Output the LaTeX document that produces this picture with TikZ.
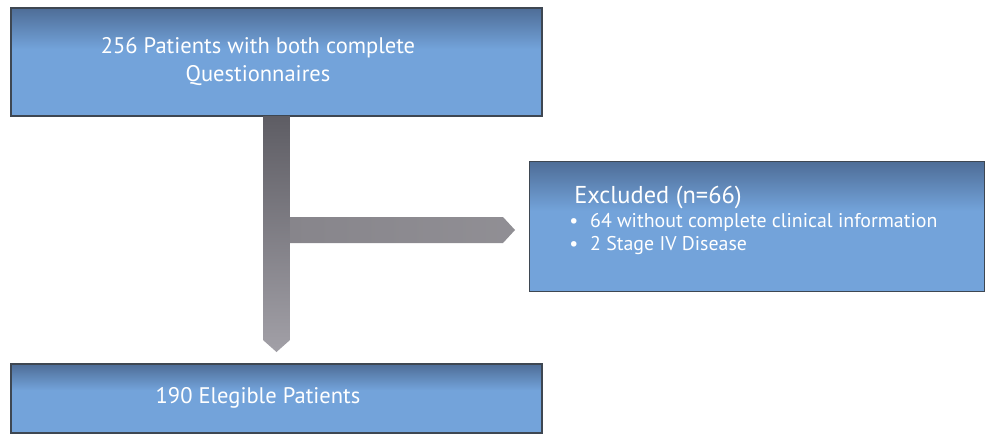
\documentclass[tikz,border=0pt]{standalone}
\usepackage{fontspec}
\setmainfont{PT Sans}
\definecolor{boxdark}{HTML}{4E6D97}
\definecolor{boxlight}{HTML}{73A3DA}
\definecolor{boxline}{HTML}{3E4752}
\definecolor{armtop}{HTML}{5E5D64}
\definecolor{armbot}{HTML}{A2A0A7}
\definecolor{armmid}{HTML}{87858B}
\pgfdeclareverticalshading{boxshade}{100bp}{color(0bp)=(boxlight); color(25bp)=(boxlight); color(56bp)=(boxlight); color(75bp)=(boxdark); color(100bp)=(boxdark)}
\tikzset{
  flowbox/.style={draw=boxline, line width=0.9pt, shading=boxshade, inner sep=0pt},
  boxtext/.style={text=white, align=center, font=\fontsize{16.9}{21.5}\selectfont, inner sep=0pt},
  listtext/.style={text=white, anchor=west, inner sep=0pt, font=\fontsize{14.9}{17}\selectfont}
}
\begin{document}
\begin{tikzpicture}[x=0.75pt,y=-0.75pt]
\useasboundingbox (0,0) rectangle (985,435);
% boxes
\node[flowbox, minimum width=398.25pt, minimum height=81pt] (top) at (276.5,62) {};
\node[flowbox, minimum width=341.25pt, minimum height=97.5pt] (excl) at (757,226.5) {};
\node[flowbox, minimum width=398.25pt, minimum height=51.75pt] (bot) at (276.5,398.5) {};
% texts
\node[boxtext] (toptext) at (258,61.5) {256 Patients with both complete\\Questionnaires};
\node[boxtext] (bottext) at (258,398) {190 Elegible Patients};
\node[text=white, anchor=west, inner sep=0pt, font=\fontsize{18.3}{20}\selectfont] (exhead) at (574,197) {Excluded (n=66)};
\node[listtext] (exone) at (569,222) {\textbullet\hspace{0.6em}64 without complete clinical information};
\node[listtext] (extwo) at (569,246) {\textbullet\hspace{0.6em}2 Stage IV Disease};
% arrow
\coordinate (vtl) at (263,116);
\coordinate (vtr) at (290,116);
\coordinate (vbr) at (290,340);
\coordinate (vtip) at (276.5,352);
\coordinate (vbl) at (263,340);
\coordinate (htl) at (289,217);
\coordinate (htr) at (503,217);
\coordinate (htip) at (515,230);
\coordinate (hbr) at (503,243);
\coordinate (hbl) at (289,243);
\path[left color=armmid, right color=armmid!92!white] (htl) -- (htr) -- (htip) -- (hbr) -- (hbl) -- cycle;
\path[top color=armtop, bottom color=armbot] (vtl) -- (vtr) -- (vbr) -- (vtip) -- (vbl) -- cycle;
\end{tikzpicture}
\end{document}
